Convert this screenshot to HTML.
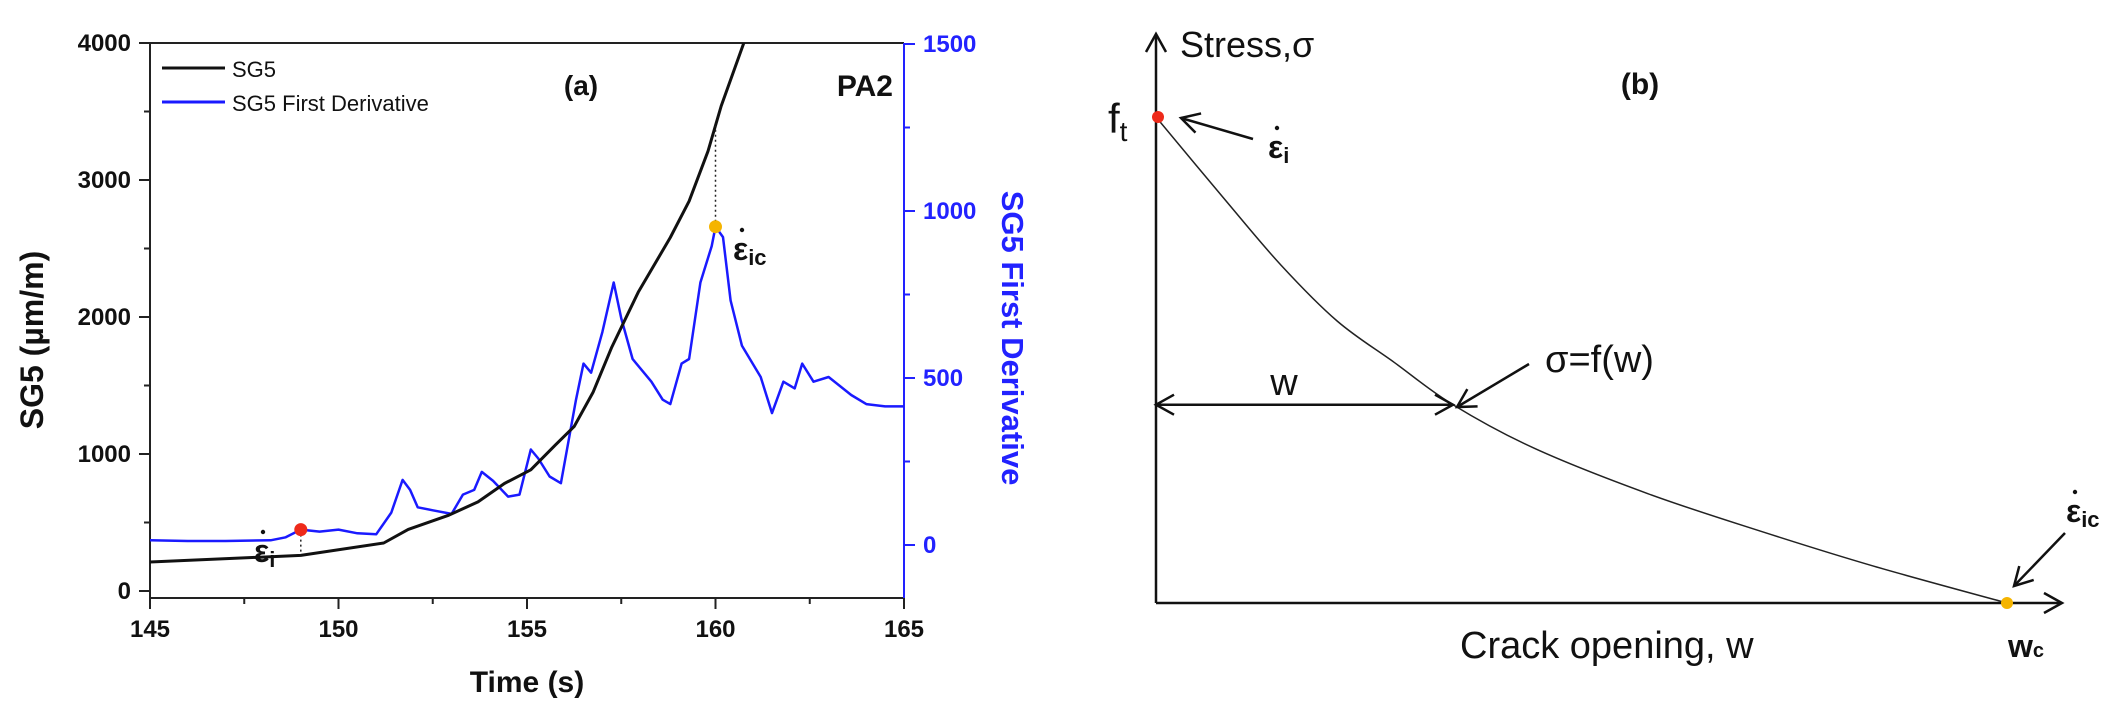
<!DOCTYPE html>
<html><head><meta charset="utf-8"><style>
html,body{margin:0;padding:0;background:#fff;}
svg{display:block;font-family:"Liberation Sans",sans-serif;}
</style></head><body>
<svg id="fig" width="2126" height="712" viewBox="0 0 2126 712" xmlns="http://www.w3.org/2000/svg">
<g id="pa"></g>
<g id="pb"></g>
</svg>
<script>
// Panel (a) data
const timeTicks = [145,150,155,160,165];
const leftTicks = [0,1000,2000,3000,4000];
const rightTicks = [0,500,1000,1500];
const sgTime = [145,149,151.2,151.85,152.9,153.7,154.4,155.1,155.75,156.25,156.75,157.25,157.95,158.8,159.3,159.8,160.15,160.75,161.2];
const sgValue = [212,260,350,450,550,650,785,885,1065,1200,1450,1780,2180,2580,2845,3210,3540,4000,4300];
const derTime = [145,146,147,148.2,148.6,149,149.5,150,150.5,151,151.4,151.7,151.9,152.1,152.5,153,153.3,153.6,153.8,154.1,154.5,154.8,155.1,155.3,155.6,155.9,156.3,156.5,156.7,157,157.3,157.5,157.8,158.3,158.6,158.8,159.1,159.3,159.6,159.9,160,160.2,160.4,160.7,161.2,161.5,161.8,162.1,162.3,162.6,163,163.6,164,164.5,165];
const derValue = [14,12,12,14,23,46,40,46,35,32,97,195,165,113,104,93,151,165,219,192,145,151,286,259,205,185,435,543,516,638,786,678,557,489,435,422,543,557,786,895,953,922,732,597,503,395,489,469,543,489,503,449,422,415,415];
const initTime = 149, critTime = 160;

// Panel (b) data (normalized crack opening vs stress)
const wVals = [0,0.081,0.147,0.213,0.28,0.349,0.445,0.578,0.71,0.843,1];
const sVals = [1,0.83,0.695,0.58,0.495,0.408,0.318,0.225,0.148,0.076,0];

const NS="http://www.w3.org/2000/svg";
function mk(tag,attrs,parent,text){const e=document.createElementNS(NS,tag);for(const k in attrs)e.setAttribute(k,attrs[k]);if(text!==undefined)e.textContent=text;parent.appendChild(e);return e;}
function epsLabel(parent,x,y,sub,name){
 const g=mk('g',{},parent);
 
 
 const t=mk('text',{x:x,y:y,'font-size':32,'font-weight':'bold',fill:'#111'},g);
 t.innerHTML='ε<tspan font-size="22" dy="5">'+sub+'</tspan>';
 mk('circle',{cx:x+9,cy:y-30,r:2.2,fill:'#111'},g);
}

const pa=document.getElementById('pa');
const X0=150,X1=904,YT=43,YB=598;
const xS=t=>X0+(t-145)/20*(X1-X0);
const yL=v=>591-v*0.137;
const yR=v=>545-v*(545-211)/1000;
function interp(xs,ys,x){for(let i=0;i<xs.length-1;i++){if(x>=xs[i]&&x<=xs[i+1]){return ys[i]+(ys[i+1]-ys[i])*(x-xs[i])/(xs[i+1]-xs[i]);}}return ys[ys.length-1];}

mk('clipPath',{id:'clipA'},pa);
mk('rect',{x:X0,y:YT,width:X1-X0,height:YB-YT},pa.lastChild);

let e;
e=mk('line',{x1:X0,y1:YT,x2:X1,y2:YT,stroke:'#222','stroke-width':2},pa);
e=mk('line',{x1:X0,y1:YT,x2:X0,y2:YB,stroke:'#222','stroke-width':2},pa);
e=mk('line',{x1:X0,y1:YB,x2:X1,y2:YB,stroke:'#222','stroke-width':2},pa);
e=mk('line',{x1:X1,y1:YT,x2:X1,y2:YB,stroke:'#2222ff','stroke-width':2},pa);

for(let i=0;i<timeTicks.length;i++){const t=timeTicks[i];const x=xS(t);
 mk('line',{x1:x,y1:YB,x2:x,y2:YB+11,stroke:'#222','stroke-width':2},pa);
 if(i<timeTicks.length-1){const xm=xS(t+2.5);mk('line',{x1:xm,y1:YB,x2:xm,y2:YB+6,stroke:'#222','stroke-width':2},pa);}
 e=mk('text',{x:x,y:637,'font-size':24,'font-weight':'bold','text-anchor':'middle',fill:'#111'},pa,String(t));}
for(let i=0;i<leftTicks.length;i++){const v=leftTicks[i];const y=yL(v);
 mk('line',{x1:X0-11,y1:y,x2:X0,y2:y,stroke:'#222','stroke-width':2},pa);
 if(i<leftTicks.length-1){const ym=yL(v+500);mk('line',{x1:X0-6,y1:ym,x2:X0,y2:ym,stroke:'#222','stroke-width':2},pa);}
 e=mk('text',{x:131,y:y+8,'font-size':24,'font-weight':'bold','text-anchor':'end',fill:'#111'},pa,String(v));}
for(let i=0;i<rightTicks.length;i++){const v=rightTicks[i];const y=yR(v);
 mk('line',{x1:X1,y1:y,x2:X1+11,y2:y,stroke:'#2222ff','stroke-width':2},pa);
 if(i<rightTicks.length-1){const ym=yR(v+250);mk('line',{x1:X1,y1:ym,x2:X1+6,y2:ym,stroke:'#2222ff','stroke-width':2},pa);}
 e=mk('text',{x:923,y:y+8,'font-size':24,'font-weight':'bold','text-anchor':'start',fill:'#2222ff'},pa,String(v));}

e=mk('text',{x:527,y:692,'font-size':30,'font-weight':'bold','text-anchor':'middle',fill:'#111'},pa,'Time (s)');
e=mk('text',{x:0,y:0,'font-size':32,'font-weight':'bold','text-anchor':'middle',fill:'#111',transform:'translate(43,340) rotate(-90)'},pa,'SG5 (µm/m)');
e=mk('text',{x:0,y:0,'font-size':31,'font-weight':'bold','text-anchor':'middle',fill:'#2222ff',transform:'translate(1002,338) rotate(90)'},pa,'SG5 First Derivative');

const g=mk('g',{'clip-path':'url(#clipA)'},pa);
let d=derTime.map((t,i)=>(i?'L':'M')+xS(t).toFixed(1)+','+yR(derValue[i]).toFixed(1)).join('');
e=mk('path',{d:d,fill:'none',stroke:'#1a1aff','stroke-width':2.5,'stroke-linejoin':'round'},g);
d=sgTime.map((t,i)=>(i?'L':'M')+xS(t).toFixed(1)+','+yL(sgValue[i]).toFixed(1)).join('');
e=mk('path',{d:d,fill:'none',stroke:'#111','stroke-width':3,'stroke-linejoin':'round'},g);

[[initTime,'#ee2a1a','initiation-marker'],[critTime,'#f5b400','critical-marker']].forEach(([t,c,n])=>{
 const yd=yR(interp(derTime,derValue,t)), ys=yL(interp(sgTime,sgValue,t));
 mk('line',{x1:xS(t),y1:yd,x2:xS(t),y2:ys,stroke:'#222','stroke-width':1.5,'stroke-dasharray':'2,3'},pa);
 const m=mk('circle',{cx:xS(t),cy:yd,r:6.5,fill:c},pa);});

epsLabel(pa,254,562,'i','epsilon-i-label');
epsLabel(pa,733,260,'ic','epsilon-ic-label');

e=mk('line',{x1:162,y1:68,x2:225,y2:68,stroke:'#111','stroke-width':3},pa);
e=mk('text',{x:232,y:77,'font-size':22,fill:'#111'},pa,'SG5');
e=mk('line',{x1:162,y1:102,x2:225,y2:102,stroke:'#1a1aff','stroke-width':3},pa);
e=mk('text',{x:232,y:111,'font-size':22,fill:'#111'},pa,'SG5 First Derivative');
e=mk('text',{x:581,y:95,'font-size':28,'font-weight':'bold','text-anchor':'middle',fill:'#111'},pa,'(a)');
e=mk('text',{x:893,y:96,'font-size':30,'font-weight':'bold','text-anchor':'end',fill:'#111'},pa,'PA2');

// Panel (b)
const pb=document.getElementById('pb');
const BX0=1156,BX1=2007,BY0=603,BY1=117;
const bx=w=>BX0+w*(BX1-BX0), by=s=>BY0-s*(BY0-BY1);
function arrowHead(x,y,dx,dy,p){const L=18,W=10;const n=Math.hypot(dx,dy);const ux=dx/n,uy=dy/n;
 mk('polyline',{points:`${x-ux*L-uy*W},${y-uy*L+ux*W} ${x},${y} ${x-ux*L+uy*W},${y-uy*L-ux*W}`,fill:'none',stroke:'#111','stroke-width':2.5},p);}
e=mk('line',{x1:BX0,y1:BY0,x2:BX0,y2:34,stroke:'#111','stroke-width':2.5},pb);
arrowHead(BX0,34,0,-1,pb);
e=mk('line',{x1:BX0,y1:BY0,x2:2062,y2:BY0,stroke:'#111','stroke-width':2.5},pb);
arrowHead(2062,BY0,1,0,pb);
const P=wVals.map((w,i)=>[bx(w),by(sVals[i])]);
let cd='M'+P[0][0]+','+P[0][1];
for(let i=0;i<P.length-1;i++){const p0=P[Math.max(i-1,0)],p1=P[i],p2=P[i+1],p3=P[Math.min(i+2,P.length-1)];
 cd+=`C${p1[0]+(p2[0]-p0[0])/6},${p1[1]+(p2[1]-p0[1])/6} ${p2[0]-(p3[0]-p1[0])/6},${p2[1]-(p3[1]-p1[1])/6} ${p2[0]},${p2[1]}`;}
e=mk('path',{d:cd,fill:'none',stroke:'#222','stroke-width':1.5},pb);
e=mk('circle',{cx:bx(0)+2,cy:by(1),r:6,fill:'#ee2a1a'},pb);
e=mk('circle',{cx:bx(1),cy:by(0),r:6,fill:'#f5b400'},pb);
const wy=by(sVals[5]), wx=bx(wVals[5]);
e=mk('line',{x1:BX0,y1:wy,x2:wx,y2:wy,stroke:'#111','stroke-width':2.5},pb);
arrowHead(BX0,wy,-1,0,pb);arrowHead(wx,wy,1,0,pb);
[[1253,139,1181,118],[1529,364,1457,407],[2065,533,2014,586]].forEach(a=>{mk('line',{x1:a[0],y1:a[1],x2:a[2],y2:a[3],stroke:'#111','stroke-width':2.5},pb);arrowHead(a[2],a[3],a[2]-a[0],a[3]-a[1],pb);});
const CF='"Liberation Sans Narrow","Liberation Sans",sans-serif';
e=mk('text',{x:1180,y:57,'font-size':36,fill:'#111','font-family':CF},pb,'Stress,σ');
e=mk('text',{x:1640,y:94,'font-size':30,'font-weight':'bold','text-anchor':'middle',fill:'#111'},pb,'(b)');
e=mk('text',{x:1108,y:133,'font-size':42,fill:'#111','font-family':CF},pb);
e.innerHTML='f<tspan font-size="28" dy="8">t</tspan>';
epsLabel(pb,1268,158,'i','epsilon-i-label-b');
e=mk('text',{x:1284,y:395,'font-size':38,'text-anchor':'middle',fill:'#111','font-family':CF},pb,'w');
e=mk('text',{x:1545,y:372,'font-size':38,fill:'#111','font-family':CF},pb,'σ=f(w)');
epsLabel(pb,2066,522,'ic','epsilon-ic-label-b');
e=mk('text',{x:1460,y:658,'font-size':38,fill:'#111','font-family':CF},pb,'Crack opening, w');
e=mk('text',{x:2008,y:657,'font-size':32,'font-weight':'bold',fill:'#111'},pb);
e.innerHTML='w<tspan font-size="20">c</tspan>';
</script>
</body></html>
